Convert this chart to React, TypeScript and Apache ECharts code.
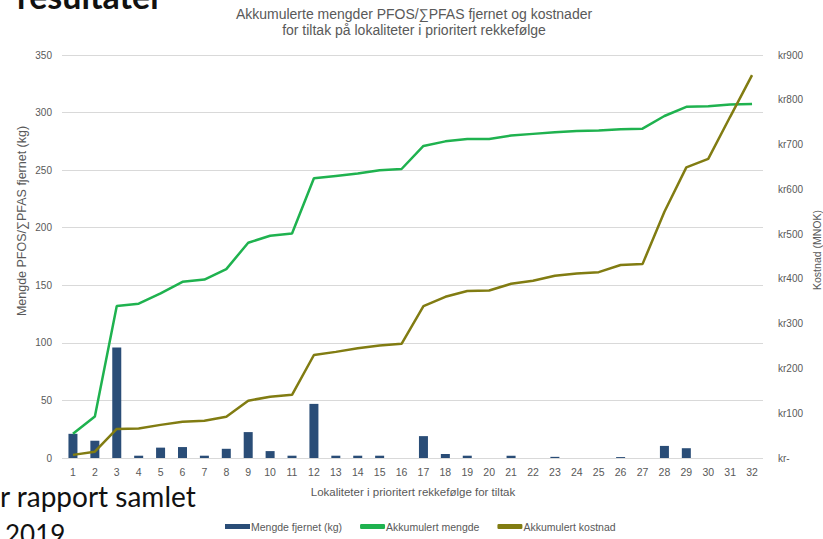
import React, { useEffect, useRef } from "react";
import * as echarts from "echarts";

const categories = ["1","2","3","4","5","6","7","8","9","10","11","12","13","14","15","16","17","18","19","20","21","22","23","24","25","26","27","28","29","30","31","32"];
const mengdeFjernet = [21, 15, 96, 2, 9, 9.5, 2, 8, 22.5, 6, 2, 47, 2, 2, 2, 0, 19, 3.5, 2, 0, 2, 0, 1, 0, 0, 0.8, 0, 10.5, 8.5, 0, 0, 0];
const akkumulertMengde = [21, 36, 132, 134, 143, 153, 155, 164, 187, 193, 195, 243, 245, 247, 250, 251, 271, 275, 277, 277, 280, 281.5, 283, 284, 284.5, 285.5, 286, 297, 305, 305.5, 307, 307.5];
const akkumulertKostnad = [7, 14, 65, 66, 74, 81, 83, 92, 128, 137, 141, 230, 237, 245, 251, 255, 339, 360, 373, 374, 389, 396, 407, 412, 415, 431, 433, 550, 649, 668, 762, 855];

const titleLines = ["Akkumulerte mengder PFOS/\u2211PFAS fjernet og kostnader", "for tiltak p\u00e5 lokaliteter i prioritert rekkef\u00f8lge"];
const leftAxisName = "Mengde PFOS/\u2211PFAS fjernet (kg)";
const rightAxisName = "Kostnad (MNOK)";
const xAxisName = "Lokaliteter i prioritert rekkef\u00f8lge for tiltak";
const seriesNames = ["Mengde fjernet (kg)", "Akkumulert mengde", "Akkumulert kostnad"];

const GRAY = "#595959";
const FONT = "'Liberation Sans', Arial, sans-serif";

export default function App() {
  const ref = useRef<HTMLDivElement>(null);
  useEffect(() => {
    if (!ref.current) return;
    const chart = echarts.init(ref.current, null, { renderer: "svg" });
    chart.setOption({
      animation: false,
      backgroundColor: "#ffffff",
      textStyle: { fontFamily: FONT },
      grid: { left: 62, right: 60, top: 55, bottom: 81, containLabel: false },
      legend: {
        left: 220,
        top: 516,
        itemGap: 18,
        itemWidth: 25,
        itemHeight: 5,
        textStyle: { color: GRAY, fontSize: 10.5, fontFamily: FONT, padding: [0, 0, 0, -4] },
        data: [
          { name: seriesNames[0], icon: "rect" },
          { name: seriesNames[1], icon: "roundRect" },
          { name: seriesNames[2], icon: "roundRect" },
        ],
      },
      xAxis: {
        type: "category",
        data: categories,
        axisLine: { show: false },
        axisTick: { show: false },
        axisLabel: { color: GRAY, fontSize: 10.5, margin: 8, interval: 0 },
      },
      yAxis: [
        {
          type: "value",
          min: 0,
          max: 350,
          interval: 50,
          axisLine: { show: false },
          axisTick: { show: false },
          axisLabel: { color: GRAY, fontSize: 10, margin: 10 },
          splitLine: { lineStyle: { color: "#d9d9d9", width: 1 } },
        },
        {
          type: "value",
          min: 0,
          max: 900,
          interval: 100,
          position: "right",
          axisLine: { show: false },
          axisTick: { show: false },
          splitLine: { show: false },
          axisLabel: {
            color: GRAY,
            fontSize: 10,
            margin: 15,
            formatter: (v: number) => (v === 0 ? "kr-" : "kr" + v),
          },
        },
      ],
      series: [
        {
          name: seriesNames[0],
          type: "bar",
          yAxisIndex: 0,
          data: mengdeFjernet,
          barWidth: 9,
          itemStyle: { color: "#2a4d77" },
        },
        {
          name: seriesNames[1],
          type: "line",
          yAxisIndex: 0,
          data: akkumulertMengde,
          symbol: "none",
          lineStyle: { color: "#1fb24f", width: 2.5 },
          itemStyle: { color: "#1fb24f" },
        },
        {
          name: seriesNames[2],
          type: "line",
          yAxisIndex: 1,
          data: akkumulertKostnad,
          symbol: "none",
          lineStyle: { color: "#817c12", width: 2.5 },
          itemStyle: { color: "#817c12" },
        },
      ],
      graphic: [
        {
          type: "text",
          x: 414,
          y: 22,
          style: {
            text: titleLines.join("\n"),
            fill: GRAY,
            font: `14px ${FONT}`,
            align: "center",
            verticalAlign: "middle",
            lineHeight: 16,
          },
        },
        {
          type: "text",
          x: 22,
          y: 221,
          rotation: Math.PI / 2,
          style: { text: leftAxisName, fill: GRAY, font: `12.5px ${FONT}`, align: "center", verticalAlign: "middle" },
        },
        {
          type: "text",
          x: 817,
          y: 250,
          rotation: Math.PI / 2,
          style: { text: rightAxisName, fill: GRAY, font: `10.5px ${FONT}`, align: "center", verticalAlign: "middle" },
        },
        {
          type: "text",
          x: 413,
          y: 492,
          style: { text: xAxisName, fill: GRAY, font: `11.5px ${FONT}`, align: "center", verticalAlign: "middle" },
        },
        {
          type: "text",
          x: 17,
          y: -22,
          style: { text: "resultater", fill: "#111111", font: `bold 34px Lato, sans-serif`, align: "left", verticalAlign: "top" },
        },
        {
          type: "text",
          x: 0,
          y: 482,
          style: { text: "r rapport samlet", fill: "#111111", font: `28px Lato, sans-serif`, align: "left", verticalAlign: "top" },
        },
        {
          type: "text",
          x: 5,
          y: 521,
          style: { text: "2019", fill: "#111111", font: `26px Lato, sans-serif`, align: "left", verticalAlign: "top" },
        },
      ],
    });
    return () => chart.dispose();
  }, []);
  return <div ref={ref} style={{ position: "fixed", left: 0, top: 0, width: 823, height: 539 }} />;
}
